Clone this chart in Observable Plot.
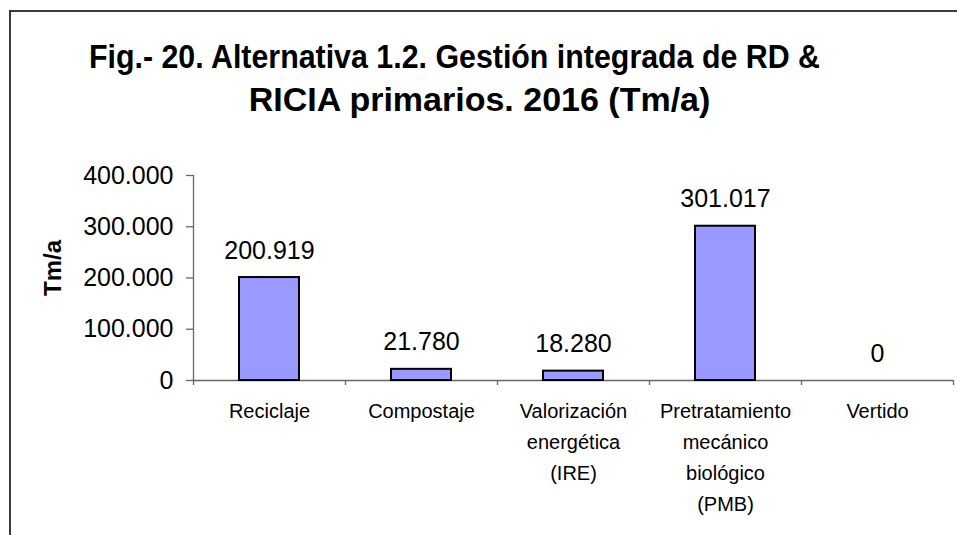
<!DOCTYPE html>
<html><head><meta charset="utf-8">
<script src="https://cdn.jsdelivr.net/npm/d3@7"></script>
<script src="https://cdn.jsdelivr.net/npm/@observablehq/plot@0.6"></script>
<style>
body{margin:0;background:#fff;font-family:"Liberation Sans",Arial,sans-serif;}
#wrap{position:relative;width:957px;height:535px;overflow:hidden;background:#fff;}
#frame{position:absolute;left:9px;top:10px;width:1000px;height:600px;border-left:2px solid #3a3a3a;border-top:2px solid #3a3a3a;}
.tl{position:absolute;left:0;width:957px;text-align:center;font-weight:bold;font-size:33px;line-height:42px;color:#000;white-space:nowrap;}
#t1{top:36px;transform:translateX(-24px) scaleX(0.92);}
#t2{top:78px;font-size:34px;transform:translateX(1px);}
#chart{position:absolute;left:0;top:130px;}
#chart svg{font-family:"Liberation Sans",Arial,sans-serif;}
</style></head><body>
<div id="wrap"><div id="frame"></div>
<div class="tl" id="t1">Fig.- 20. Alternativa 1.2. Gestión integrada de RD &amp;</div>
<div class="tl" id="t2">RICIA primarios. 2016 (Tm/a)</div>
<div id="chart"></div></div>
<script>
const categories = ["Reciclaje","Compostaje","Valorización energética (IRE)","Pretratamiento mecánico biológico (PMB)","Vertido"];
const tickLabels = ["Reciclaje","Compostaje","Valorización\nenergética\n(IRE)","Pretratamiento\nmecánico\nbiológico\n(PMB)","Vertido"];
const values = [200919, 21780, 18280, 301017, 0];
const valueLabels = ["200.919","21.780","18.280","301.017","0"];
const yTicks = [0,100000,200000,300000,400000];
const yTickLabels = ["0","100.000","200.000","300.000","400.000"];
const yTitle = "Tm/a";

const data = categories.map((c,i)=>({cat:c, value:values[i], label:valueLabels[i]}));
const axisColor = "#666";

const chart = Plot.plot({
  width: 957,
  height: 405,
  marginTop: 45,
  marginBottom: 155,
  marginLeft: 193,
  marginRight: 4,
  style: {fontFamily: '"Liberation Sans", Arial, sans-serif', color: "#000", background: "transparent"},
  x: {type: "band", domain: categories, padding: 0},
  y: {domain: [0, 400000]},
  marks: [
    Plot.frame({anchor: "left", stroke: axisColor, strokeWidth: 1.3}),
    Plot.ruleY([0], {stroke: axisColor, strokeWidth: 1.3}),
    Plot.axisY({ticks: yTicks, tickSize: 7, tickPadding: 13, fontSize: 25, stroke: axisColor, strokeWidth: 1.3,
      tickFormat: d => yTickLabels[yTicks.indexOf(d)], label: null}),
    Plot.axisX({tickSize: 0, tickPadding: 15, fontSize: 20, lineHeight: 31/20,
      tickFormat: d => tickLabels[categories.indexOf(d)], label: null}),
    Plot.axisX({tickSize: 5, dx: 76, stroke: axisColor, strokeWidth: 1.3, tickFormat: () => "", label: null}),
    Plot.axisX([categories[0]], {tickSize: 5, dx: -76, stroke: axisColor, strokeWidth: 1.3, tickFormat: () => "", label: null}),
    Plot.barY(data.filter(d => d.value > 0), {x: "cat", y: "value", fill: "#9999ff", stroke: "#000", strokeWidth: 2, insetLeft: 46, insetRight: 46}),
    Plot.text(data, {x: "cat", y: "value", text: "label", dy: -27, fontSize: 25, fill: "#000"}),
    Plot.text([yTitle], {frameAnchor: "left", text: d => d, rotate: -90, dx: -140, dy: 18, fontSize: 24, fontWeight: "bold", fill: "#000"})
  ]
});
document.getElementById("chart").appendChild(chart);
</script>
</body></html>
